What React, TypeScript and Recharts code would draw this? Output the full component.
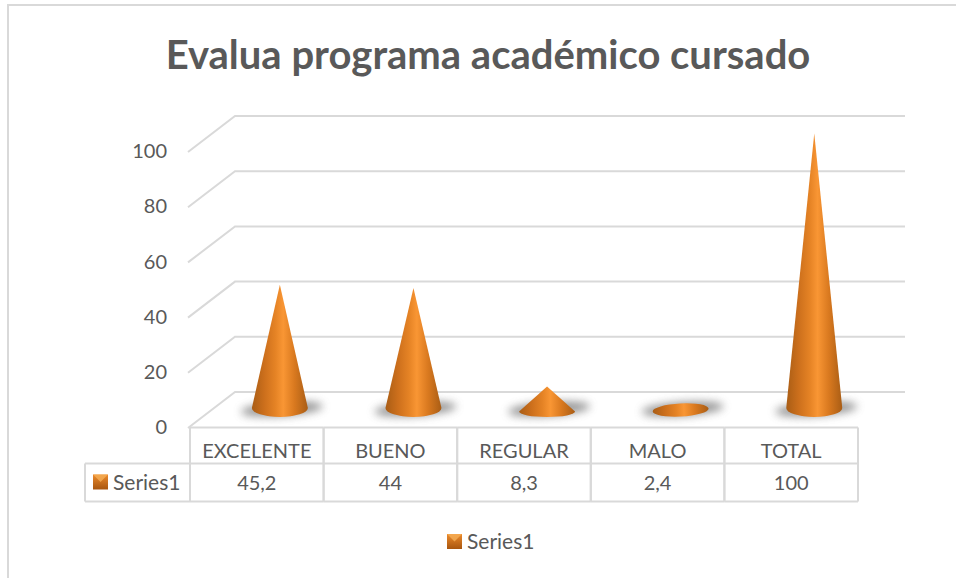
import { BarChart, Bar, XAxis, YAxis, CartesianGrid, Legend } from 'recharts';

const categories = ['EXCELENTE', 'BUENO', 'REGULAR', 'MALO', 'TOTAL'];
const seriesValues = [45.2, 44, 8.3, 2.4, 100];
const valueLabels = ['45,2', '44', '8,3', '2,4', '100'];
const yTicks = [0, 20, 40, 60, 80, 100];

const data = categories.map((name, i) => ({ name, value: seriesValues[i], label: valueLabels[i] }));

const FONT = 'Lato, "Open Sans", sans-serif';
const TEXT = '#595959';
const LINE = '#d9d9d9';
// fake 3d floor depth
const DX = 45;
const DY = 35;

function SeriesKey({ x, y }: { x: number; y: number }) {
  return (
    <g>
      <rect x={x} y={y} width={15} height={15} fill="url(#keyFill)" />
      <path d={`M${x} ${y}L${x + 15} ${y}L${x + 7.5} ${y + 7.5}Z`} fill="#f7b15a" opacity={0.75} />
    </g>
  );
}

function Cone(props: any) {
  const { x, y, width, height } = props;
  const cx = x + width / 2 + 23;
  const floor = y + height;
  const tip = y - DY / 2;
  const rx = 28;
  const shadow = (
    <ellipse
      cx={cx + 2}
      cy={floor - 18}
      rx={41}
      ry={7}
      fill="#6a6a6a"
      opacity={0.7}
      filter="url(#coneShadow)"
      transform={`rotate(-4 ${cx + 2} ${floor - 18})`}
    />
  );
  // very short cones read as a flat tilted disc
  if (height < 15) {
    return (
      <g>
        {shadow}
        <ellipse cx={cx} cy={floor - 17} rx={rx} ry={6.5} fill="url(#coneFill)" transform={`rotate(-3 ${cx} ${floor - 17})`} />
      </g>
    );
  }
  const short = height < 60;
  const base = short ? floor - 15.5 : floor - 19;
  const ry = short ? 5.5 : 9;
  return (
    <g>
      {shadow}
      <path
        d={`M${cx} ${tip}L${cx + rx} ${base}A${rx} ${ry} 0 0 1 ${cx - rx} ${base}Z`}
        fill="url(#coneFill)"
      />
    </g>
  );
}

function GridLine(props: any) {
  const { x1, x2, y1 } = props;
  return (
    <path
      d={`M${x1 - 2} ${y1 + 1}L${x1 + DX} ${y1 - DY}L${x2 + 47} ${y1 - DY}`}
      fill="none"
      stroke={LINE}
      strokeWidth={2}
    />
  );
}

function TableTick(props: any) {
  const { x, index } = props;
  const colW = 133.6;
  const left = x - colW / 2;
  const top = 427.5;
  const row = top + 36;
  const bottom = top + 74;
  return (
    <g fontFamily={FONT} fontSize={20} fill={TEXT}>
      <path d={`M${left} ${top}V${bottom}M${left + colW} ${top}V${bottom}M${left} ${top}H${left + colW}M${left} ${row}H${left + colW}M${left} ${bottom}H${left + colW}`} stroke={LINE} strokeWidth={2} fill="none" />
      <text x={x} y={top + 30} textAnchor="middle" fill={TEXT}>{categories[index]}</text>
      <text x={x} y={row + 26.5} textAnchor="middle" fill={TEXT}>{valueLabels[index]}</text>
      {index === 0 && (
        <g>
          <path d={`M${left - 105} ${row}H${left}M${left - 105} ${row}V${bottom}M${left - 105} ${bottom}H${left}`} stroke={LINE} strokeWidth={2} fill="none" />
          <SeriesKey x={left - 97} y={row + 11} />
          <text x={left - 77} y={row + 26} fontSize={21} fill={TEXT}>Series1</text>
        </g>
      )}
    </g>
  );
}

function BottomLegend() {
  return (
    <svg width={130} height={30} style={{ display: 'block' }}>
      <SeriesKey x={0} y={7} />
      <text x={20} y={22} fontFamily={FONT} fontSize={21} fill={TEXT}>Series1</text>
    </svg>
  );
}

export default function App() {
  return (
    <div style={{ position: 'absolute', left: 0, top: 0, width: 956, height: 578, background: '#fff', overflow: 'hidden' }}>
      <div style={{ position: 'absolute', left: 7, top: 4, width: 949, height: 574, borderTop: '2px solid #d9d9d9', borderLeft: '2px solid #d9d9d9', boxSizing: 'border-box' }} />
      <div style={{ position: 'absolute', left: 0, top: 29, width: 976, textAlign: 'center', fontFamily: FONT, fontWeight: 700, fontSize: 40, color: TEXT, lineHeight: '50px' }}>
        Evalua programa académico cursado
      </div>
      <BarChart
        width={956}
        height={578}
        data={data}
        margin={{ top: 151, right: 98, bottom: 47, left: 130 }}
        style={{ position: 'absolute', left: 0, top: 0 }}
      >
        <defs>
          <linearGradient id="coneFill" x1="0" y1="0" x2="1" y2="0">
            <stop offset="0" stopColor="#a95d15" />
            <stop offset="0.22" stopColor="#cc6f1c" />
            <stop offset="0.42" stopColor="#e58325" />
            <stop offset="0.56" stopColor="#f99634" />
            <stop offset="0.76" stopColor="#d9791f" />
            <stop offset="1" stopColor="#a95d15" />
          </linearGradient>
          <linearGradient id="keyFill" x1="0" y1="0" x2="0" y2="1">
            <stop offset="0" stopColor="#ec8a2c" />
            <stop offset="1" stopColor="#a8560f" />
          </linearGradient>
          <filter id="coneShadow" x="-30%" y="-100%" width="160%" height="300%">
            <feGaussianBlur stdDeviation="4" />
          </filter>
        </defs>
        <CartesianGrid vertical={false} horizontal={(p: any) => <GridLine key={p.key} {...p} />} />
        <XAxis
          dataKey="name"
          axisLine={false}
          tickLine={false}
          interval={0}
          height={74}
          tick={(p: any) => <TableTick {...p} />}
        />
        <YAxis
          domain={[0, 100]}
          ticks={yTicks}
          axisLine={false}
          tickLine={false}
          width={60}
          tickMargin={17}
          tick={{ fill: TEXT, fontSize: 20, fontFamily: FONT }}
        />
        <Legend content={() => <BottomLegend />} wrapperStyle={{ left: 447, top: 527, width: 130 }} />
        <Bar dataKey="value" shape={(p: any) => <Cone {...p} />} isAnimationActive={false} />
      </BarChart>
    </div>
  );
}
